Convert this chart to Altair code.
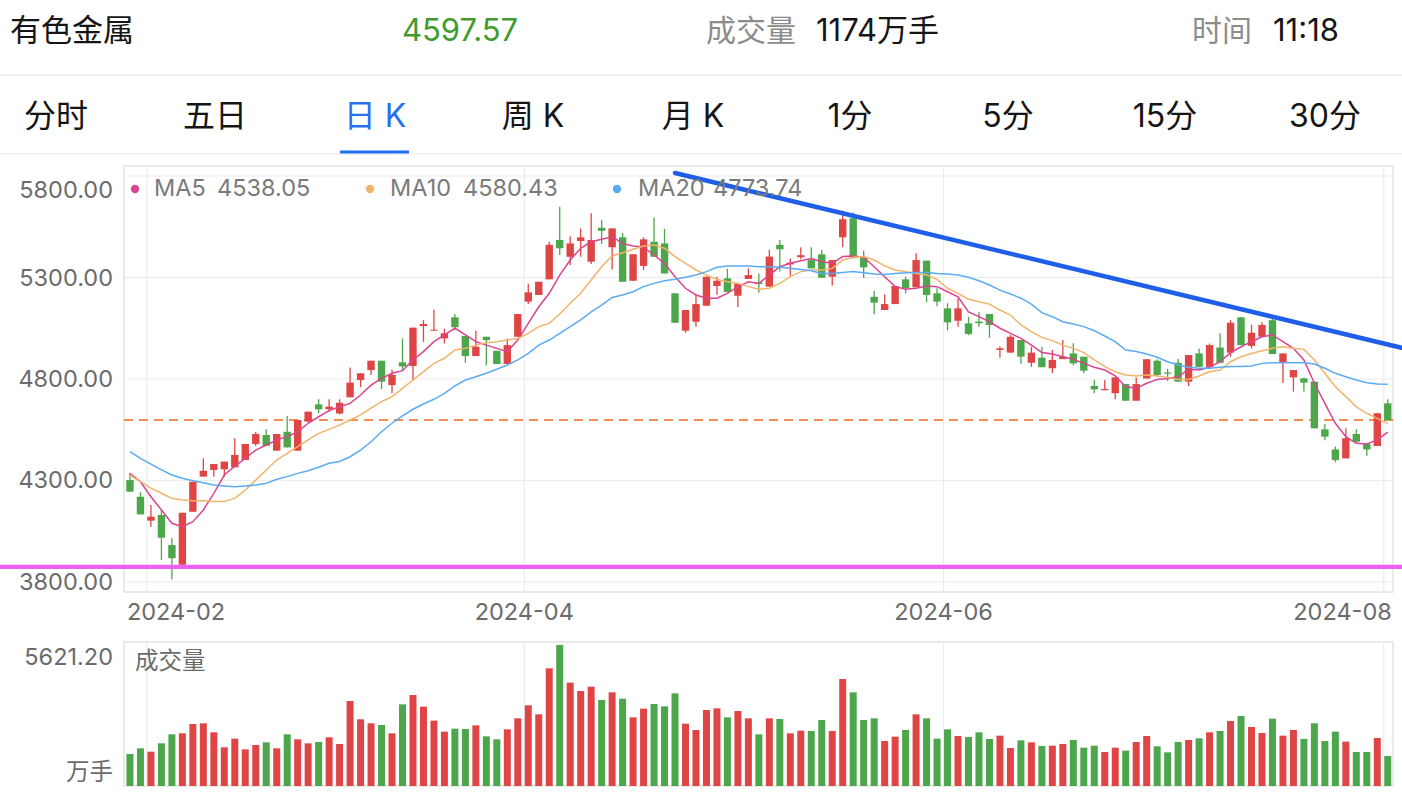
import altair as alt
import pandas as pd

# ---------------- data ----------------
opens = [4302, 4220, 4102, 4130, 3982, 3885, 4146, 4319, 4352, 4355,
         4365, 4401, 4480, 4524, 4447, 4540, 4447, 4590, 4675, 4651,
         4630, 4710, 4795, 4844, 4890, 4770, 4882, 4864, 5061, 5038,
         5000, 5104, 5012, 4913, 5008, 4939, 4874, 5008, 5181, 5214,
         5291, 5485, 5402, 5480, 5378, 5545, 5449, 5498, 5284, 5357,
         5476, 5468, 5222, 5038, 5082, 5161, 5258, 5296, 5210, 5293,
         5275, 5255, 5461, 5365, 5400, 5386, 5414, 5304, 5498, 5592,
         5397, 5205, 5140, 5169, 5291, 5252, 5383, 5222, 5148, 5087,
         5074, 5083, 5120, 4943, 4930, 4992, 4880, 4905, 4853, 4898,
         4926, 4910, 4766, 4745, 4730, 4775, 4693, 4803, 4890, 4832,
         4880, 4787, 4926, 4860, 4955, 4930, 5104, 4963, 5008, 5090,
         4880, 4808, 4803, 4787, 4552, 4453, 4409, 4529, 4480, 4470,
         4680]
highs = [4337, 4242, 4179, 4155, 4015, 4141, 4294, 4409, 4381, 4393,
         4508, 4480, 4539, 4552, 4529, 4618, 4598, 4639, 4700, 4700,
         4700, 4857, 4828, 4890, 4890, 4845, 5000, 5053, 5090, 5142,
         5048, 5120, 5012, 5038, 5008, 4939, 4999, 5120, 5269, 5279,
         5476, 5649, 5502, 5542, 5616, 5584, 5542, 5520, 5414, 5498,
         5596, 5540, 5222, 5140, 5217, 5304, 5304, 5343, 5268, 5345,
         5320, 5437, 5485, 5392, 5449, 5449, 5437, 5386, 5630, 5620,
         5432, 5234, 5217, 5258, 5304, 5420, 5383, 5247, 5173, 5197,
         5107, 5129, 5120, 4960, 5016, 4992, 4959, 4959, 4943, 4992,
         4976, 4910, 4795, 4795, 4808, 4775, 4808, 4897, 4897, 4850,
         4900, 4918, 4950, 4975, 5025, 5090, 5104, 5067, 5080, 5100,
         4926, 4844, 4808, 4787, 4578, 4467, 4557, 4552, 4480, 4631,
         4700]
lows = [4245, 4133, 4072, 3908, 3813, 3878, 4146, 4319, 4319, 4319,
        4365, 4401, 4470, 4470, 4447, 4463, 4447, 4590, 4631, 4638,
        4625, 4710, 4760, 4820, 4750, 4730, 4840, 4795, 4983, 5038,
        4975, 5040, 4880, 4913, 4867, 4874, 4874, 5008, 5170, 5214,
        5291, 5411, 5362, 5402, 5366, 5465, 5340, 5279, 5284, 5337,
        5402, 5320, 5077, 5028, 5058, 5161, 5215, 5228, 5155, 5293,
        5225, 5255, 5330, 5310, 5390, 5345, 5299, 5260, 5449, 5395,
        5297, 5119, 5140, 5169, 5222, 5252, 5178, 5159, 5040, 5058,
        5016, 5058, 5003, 4905, 4930, 4875, 4860, 4858, 4828, 4898,
        4868, 4828, 4730, 4745, 4700, 4693, 4693, 4803, 4815, 4790,
        4787, 4765, 4860, 4860, 4880, 4910, 4967, 4950, 5008, 4923,
        4780, 4738, 4738, 4557, 4498, 4390, 4409, 4487, 4422, 4470,
        4597.57]
closes = [4245, 4133, 4122, 4018, 3917, 4141, 4294, 4348, 4381, 4393,
          4426, 4480, 4529, 4471, 4529, 4463, 4598, 4639, 4651, 4664,
          4683, 4782, 4828, 4890, 4787, 4820, 4862, 5053, 5071, 5043,
          5025, 5055, 4913, 4959, 4992, 4874, 4967, 5120, 5227, 5279,
          5461, 5444, 5468, 5498, 5485, 5530, 5542, 5279, 5414, 5488,
          5402, 5320, 5077, 5140, 5169, 5304, 5284, 5228, 5268, 5312,
          5268, 5403, 5439, 5373, 5410, 5345, 5299, 5386, 5587, 5395,
          5350, 5176, 5169, 5258, 5247, 5386, 5214, 5181, 5079, 5148,
          5022, 5075, 5066, 4951, 5008, 4910, 4930, 4858, 4894, 4910,
          4877, 4841, 4749, 4751, 4808, 4693, 4775, 4897, 4820, 4826,
          4787, 4918, 4860, 4967, 4880, 5077, 4967, 5028, 5066, 4923,
          4926, 4844, 4782, 4557, 4516, 4401, 4508, 4491, 4453, 4631,
          4597.57]
volumes = [1276, 1502, 1369, 1701, 2060, 2100, 2472, 2499, 2140, 1542,
           1887, 1462, 1635, 1741, 1502, 2060, 1861, 1701, 1754, 1940,
           1675, 3389, 2658, 2499, 2432, 2100, 3256, 3628, 3163, 2605,
           2166, 2286, 2273, 2419, 1980, 1861, 2259, 2698, 3216, 2857,
           4691, 5621.20, 4120, 3788, 3960, 3429, 3734, 3482, 2738, 3083,
           3269, 3176, 3695, 2485, 2233, 3030, 3097, 2738, 2990, 2698,
           2060, 2698, 2671, 2100, 2206, 2193, 2631, 2193, 4266, 3734,
           2631, 2698, 1794, 1967, 2233, 2857, 2698, 1887, 2259, 1994,
           1954, 2140, 1874, 2007, 1515, 1821, 1741, 1595, 1608, 1675,
           1834, 1528, 1608, 1356, 1528, 1409, 1754, 1994, 1582, 1342,
           1754, 1834, 1900, 2140, 2193, 2592, 2791, 2352, 2113, 2685,
           2007, 2233, 1874, 2499, 1794, 2166, 1768, 1356, 1356, 1914,
           1196]
ma5 = [4335, 4294, 4220, 4155, 4089, 4072, 4097, 4155, 4237, 4327,
       4371, 4409, 4450, 4475, 4500, 4516, 4540, 4582, 4614, 4644,
       4663, 4680, 4721, 4770, 4803, 4828, 4841, 4894, 4935, 4984,
       5017, 5050, 5017, 4984, 4967, 4951, 4935, 4992, 5074, 5156,
       5222, 5312, 5386, 5444, 5476, 5488, 5501, 5468, 5455, 5449,
       5411, 5370, 5304, 5247, 5214, 5198, 5198, 5222, 5255, 5279,
       5271, 5312, 5353, 5370, 5383, 5394, 5378, 5370, 5403, 5406,
       5400, 5353, 5304, 5255, 5242, 5247, 5258, 5255, 5230, 5205,
       5131, 5107, 5082, 5050, 5025, 5000, 4967, 4930, 4923, 4910,
       4897, 4877, 4858, 4844, 4815, 4762, 4754, 4779, 4798, 4803,
       4811, 4848, 4844, 4858, 4885, 4930, 4959, 4984, 5008, 5017,
       4984, 4951, 4894, 4779, 4680, 4582, 4516, 4483, 4480, 4500,
       4538.05]
ma10 = [4327, 4294, 4262, 4237, 4212, 4204, 4200, 4200, 4196, 4196,
        4212, 4253, 4302, 4352, 4401, 4434, 4467, 4500, 4532, 4552,
        4573, 4598, 4623, 4656, 4688, 4713, 4754, 4795, 4836, 4877,
        4902, 4943, 4951, 4967, 4979, 4984, 4992, 5000, 5025, 5058,
        5074, 5120, 5173, 5222, 5288, 5353, 5406, 5422, 5439, 5455,
        5460, 5444, 5403, 5370, 5337, 5312, 5291, 5279, 5271, 5255,
        5242, 5247, 5271, 5304, 5329, 5337, 5337, 5345, 5386, 5400,
        5403, 5386, 5357, 5337, 5329, 5320, 5312, 5291, 5247, 5222,
        5193, 5181, 5169, 5140, 5115, 5066, 5033, 5005, 4989, 4967,
        4951, 4930, 4894, 4861, 4836, 4820, 4815, 4820, 4815, 4808,
        4798, 4798, 4815, 4836, 4844, 4885, 4910, 4926, 4939, 4951,
        4959, 4951, 4946, 4894, 4828, 4762, 4713, 4663, 4631, 4606,
        4580.43]
ma20 = [4442, 4409, 4381, 4352, 4327, 4311, 4299, 4289, 4278, 4273,
        4269, 4273, 4278, 4286, 4306, 4319, 4335, 4348, 4365, 4385,
        4394, 4417, 4450, 4491, 4540, 4582, 4618, 4651, 4677, 4700,
        4729, 4766, 4795, 4811, 4828, 4848, 4869, 4894, 4926, 4967,
        4992, 5025, 5058, 5091, 5131, 5164, 5202, 5214, 5230, 5255,
        5271, 5284, 5291, 5301, 5312, 5329, 5350, 5357, 5357, 5357,
        5353, 5353, 5350, 5345, 5340, 5333, 5320, 5320, 5325, 5329,
        5324, 5317, 5315, 5320, 5324, 5325, 5325, 5320, 5317, 5312,
        5301, 5284, 5263, 5238, 5219, 5198, 5169, 5127, 5107, 5082,
        5071, 5058, 5038, 5012, 4984, 4943, 4935, 4923, 4907, 4885,
        4869, 4858, 4853, 4853, 4858, 4861, 4861, 4864, 4877, 4880,
        4880, 4880, 4880, 4874, 4853, 4828, 4811, 4795, 4782, 4775,
        4773.74]

price_ticks = [3800, 4300, 4800, 5300, 5800]
month_idx = [2, 38, 78, 120]
month_labels = ["2024-02", "2024-04", "2024-06", "2024-08"]
trend_idx = [52.0, 121.4]
trend_price = [5815, 4953]
support_price = [3874]

title_text = "有色金属"
volume_now = "1174万手"
time_now = "11:18"
tabs = ["分时", "五日", "日 K", "周 K", "月 K", "1分", "5分", "15分", "30分"]
active_tab = "日 K"
ma_names = ["MA5", "MA10", "MA20"]

# ---------------- styling ----------------
FONT = "Inter, Noto Sans CJK SC"
RED = "#e04545"
GREEN = "#4ca64c"
MA_COLORS = ["#dc4390", "#f2b36a", "#5aabf4"]
LABEL_GRAY = "#6b6b6b"
SMALL = 23.5
W, H = 1269, 620
PL, PT = 124, 166
P_H = 426

n = len(closes)
df = pd.DataFrame(dict(idx=list(range(n)), open=opens, high=highs, low=lows,
                       close=closes, volume=volumes, ma5=ma5, ma10=ma10, ma20=ma20))
df["dir"] = ["up" if c >= o else "down" for o, c in zip(opens, closes)]
mdf = pd.DataFrame(dict(idx=month_idx, label=month_labels))
tdf = pd.DataFrame(dict(idx=trend_idx, price=trend_price))
pdf = pd.DataFrame(dict(p=price_ticks))
one = pd.DataFrame({"t": [""]})

xs = alt.Scale(domain=[-0.57, 120.5], nice=False, zero=False, padding=0)
ps = alt.Scale(domain=[3750.7, 5849.3], range=[P_H, 0], nice=False, zero=False, padding=0)
vs = alt.Scale(domain=[0, max(volumes)], range=[H, 479], nice=False, padding=0)
cs = alt.Scale(domain=["up", "down"], range=[RED, GREEN])
X = alt.X("idx:Q", scale=xs, axis=None)
COLOR = alt.Color("dir:N", scale=cs, legend=None)


def txt(text, x, y, size, color, align="left", baseline="middle", weight="normal"):
    return alt.Chart(pd.DataFrame({"t": [text]})).mark_text(
        align=align, baseline=baseline, fontSize=size, color=color, font=FONT,
        fontWeight=weight).encode(x=alt.value(x), y=alt.value(y), text="t:N")


def hline(y, x1, x2, color, width):
    return alt.Chart(one).mark_rule(color=color, strokeWidth=width).encode(
        x=alt.value(x1), x2=alt.value(x2), y=alt.value(y))


frames = alt.layer(
    alt.Chart(one).mark_rect(fill="transparent", stroke="#e4e4e4", strokeWidth=1.5).encode(
        x=alt.value(0), x2=alt.value(W), y=alt.value(0), y2=alt.value(P_H)),
    alt.Chart(one).mark_rect(fill="transparent", stroke="#e4e4e4", strokeWidth=1.5).encode(
        x=alt.value(0), x2=alt.value(W), y=alt.value(476), y2=alt.value(H)),
    alt.Chart(mdf).mark_rule(color="#ececec", strokeWidth=1.2, xOffset=-4).encode(
        x=X, y=alt.value(0), y2=alt.value(P_H)),
    alt.Chart(mdf).mark_rule(color="#ececec", strokeWidth=1.2, xOffset=-4).encode(
        x=X, y=alt.value(476), y2=alt.value(H)),
    alt.Chart(pdf).mark_rule(color="#ececec", strokeWidth=1.2).encode(
        y=alt.Y("p:Q", scale=ps, axis=None), x=alt.value(0), x2=alt.value(W)),
)

ylab_style = dict(align="right", fontSize=SMALL, color=LABEL_GRAY, font=FONT)
ylabels = alt.layer(
    alt.Chart(pdf).transform_filter(f"datum.p < {max(price_ticks)}").mark_text(
        baseline="middle", dy=1, **ylab_style).encode(
        y=alt.Y("p:Q", scale=ps, axis=None), x=alt.value(-11), text=alt.Text("p:Q", format=".2f")),
    alt.Chart(pdf).transform_filter(f"datum.p == {max(price_ticks)}").mark_text(
        baseline="top", dy=3, **ylab_style).encode(
        y=alt.Y("p:Q", scale=ps, axis=None), x=alt.value(-11), text=alt.Text("p:Q", format=".2f")),
)

last_line = alt.Chart(pd.DataFrame({"p": [closes[-1]]})).mark_rule(
    color="#f06a1e", strokeWidth=1.5, strokeDash=[9, 6]).encode(
    y=alt.Y("p:Q", scale=ps, axis=None), x=alt.value(0), x2=alt.value(W))

wicks = alt.Chart(df).mark_rule(strokeWidth=1.3).encode(
    x=X, y=alt.Y("low:Q", scale=ps, axis=None), y2="high:Q", color=COLOR)
bodies = alt.Chart(df).mark_bar(size=7.4).encode(
    x=X, y=alt.Y("open:Q", scale=ps, axis=None), y2="close:Q", color=COLOR)

ma_layers = [alt.Chart(df).mark_line(strokeWidth=1.5, color=c).encode(
    x=X, y=alt.Y(f"{m}:Q", scale=ps, axis=None))
    for m, c in zip(["ma5", "ma10", "ma20"], MA_COLORS)]

trend = alt.Chart(tdf).mark_line(color="#1f5fe8", strokeWidth=4.5, strokeCap="round").encode(
    x=X, y=alt.Y("price:Q", scale=ps, axis=None))
support = alt.Chart(pd.DataFrame({"p": support_price})).mark_rule(
    color="#ec62ee", strokeWidth=4.2).encode(
    y=alt.Y("p:Q", scale=ps, axis=None), x=alt.value(-PL), x2=alt.value(1402 - PL))

# legend of moving averages
ma_last = [ma5[-1], ma10[-1], ma20[-1]]
legend = []
for name, val, col, (dx, nx, vx) in zip(ma_names, ma_last, MA_COLORS,
                                        [(11, 30, 93), (246, 266, 339), (493, 514, 589)]):
    legend.append(alt.Chart(one).mark_circle(size=70, color=col, opacity=1).encode(
        x=alt.value(dx), y=alt.value(23)))
    legend.append(txt(name, nx, 23, SMALL, "#7a7a7a"))
    legend.append(txt(f"{val:.2f}", vx, 23, SMALL, "#7a7a7a"))

# x date labels
xlab_style = dict(fontSize=SMALL, color=LABEL_GRAY, font=FONT, baseline="middle")
xl_first = alt.Chart(mdf).transform_filter(f"datum.idx == {month_idx[0]}").mark_text(
    align="left", dx=-24, **xlab_style).encode(x=X, y=alt.value(447), text="label:N")
xl_mid = alt.Chart(mdf).transform_filter(
    f"datum.idx > {month_idx[0]} && datum.idx < {month_idx[-1]}").mark_text(
    align="center", dx=-4, **xlab_style).encode(x=X, y=alt.value(447), text="label:N")
xl_last = alt.Chart(mdf).transform_filter(f"datum.idx == {month_idx[-1]}").mark_text(
    align="right", dx=4, **xlab_style).encode(x=X, y=alt.value(447), text="label:N")

# header and tabs
HEAD = 31
header = [
    txt(title_text, -114, -134, HEAD, "#151515"),
    txt(f"{closes[-1]:.2f}", 336, -134, HEAD, "#3f9b2b", align="center"),
    txt("成交量", 582, -134, 30, "#8c8c8c"),
    txt(volume_now, 692, -134, HEAD, "#151515"),
    txt("时间", 1068, -134, 30, "#8c8c8c"),
    txt(time_now, 1149, -134, HEAD, "#151515"),
    hline(-91, -PL, 1402 - PL, "#efefef", 2),
    hline(-12, -PL, 1402 - PL, "#efefef", 1.5),
    hline(-14, 216, 285, "#1f6ef0", 3),
]
tab_centers = [-68, 91, 251, 409, 569, 726, 884, 1041, 1201]
for t, cx in zip(tabs, tab_centers):
    header.append(txt(t, cx, -49, 32, "#2a6ff0" if t == active_tab else "#151515", align="center"))

price_group = alt.layer(frames, ylabels, last_line, wicks, bodies, *ma_layers, trend, support,
                        *legend, xl_first, xl_mid, xl_last, *header)

vol_bars = alt.Chart(df).mark_bar(size=7).encode(
    x=X, y=alt.Y("volume:Q", scale=vs, axis=None), color=COLOR)
vol_texts = [
    txt(f"{max(volumes):.2f}", -11, 492, SMALL, LABEL_GRAY, align="right"),
    txt("万手", -11, 607, SMALL, LABEL_GRAY, align="right"),
    txt("成交量", 11, 496, SMALL, LABEL_GRAY),
]
vol_group = alt.layer(vol_bars, *vol_texts)

chart = alt.layer(price_group, vol_group).resolve_scale(y="independent").properties(
    width=W, height=H,
    padding={"left": PL, "top": PT, "right": 1402 - PL - W, "bottom": 794 - PT - H},
    autosize=alt.AutoSizeParams(type="none"),
    background="white",
).configure_view(stroke=None)

chart.save("out.html", embed_options={"renderer": "svg", "actions": False})
